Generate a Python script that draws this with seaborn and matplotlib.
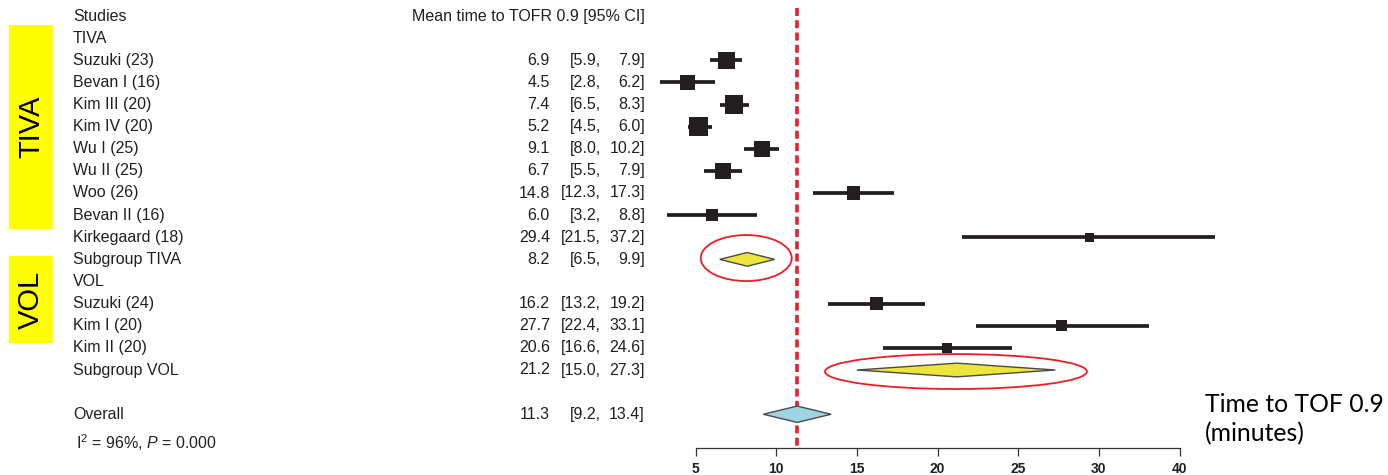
import matplotlib
matplotlib.use("Agg")
import matplotlib.pyplot as plt
from matplotlib.patches import Polygon, Ellipse, Rectangle
import pandas as pd
import seaborn as sns

# ---- study-level results (minutes to TOF ratio 0.9) ----
study_names = ["Suzuki (23)", "Bevan I (16)", "Kim III (20)", "Kim IV (20)",
               "Wu I (25)", "Wu II (25)", "Woo (26)", "Bevan II (16)",
               "Kirkegaard (18)", "Suzuki (24)", "Kim I (20)", "Kim II (20)"]
study_group = ["TIVA"] * 9 + ["VOL"] * 3
study_mean = [6.9, 4.5, 7.4, 5.2, 9.1, 6.7, 14.8, 6.0, 29.4, 16.2, 27.7, 20.6]
study_lo = [5.9, 2.8, 6.5, 4.5, 8.0, 5.5, 12.3, 3.2, 21.5, 13.2, 22.4, 16.6]
study_hi = [7.9, 6.2, 8.3, 6.0, 10.2, 7.9, 17.3, 8.8, 37.2, 19.2, 33.1, 24.6]
study_weight = [11.6, 9.0, 13.0, 14.5, 10.3, 10.3, 6.8, 5.8, 3.2, 6.8, 4.8, 4.0]

# ---- pooled estimates ----
group_names = ["TIVA", "VOL"]
subgroup_labels = ["Subgroup TIVA", "Subgroup VOL"]
subgroup_mean = [8.2, 21.2]
subgroup_lo = [6.5, 15.0]
subgroup_hi = [9.9, 27.3]
overall_label = "Overall"
overall_mean = 11.3
overall_lo = 9.2
overall_hi = 13.4
heterogeneity = r"I$^{2}$ = 96%, $P$ = 0.000"

header_left = "Studies"
header_right = "Mean time to TOFR 0.9 [95% CI]"
tick_values = [5, 10, 15, 20, 25, 30, 35]
tick_labels = ["5", "10", "15", "20", "25", "30", "40"]
x_title = ["Time to TOF 0.9", "(minutes)"]

# ---- styling ----
INK = "#231f20"
RED = "#e8202a"
YELLOW_FILL = "#ede53b"
BLUE_FILL = "#9fd4e6"
W, H = 1388, 475
X0_PX, PX_PER_MIN = 695.6, 16.13     # horizontal scale of the forest panel
ROW0_PX, ROW_PX = 16.0, 22.125       # vertical spacing of table rows

sns.set_style("white")
plt.rcParams["font.family"] = ["Liberation Sans", "DejaVu Sans"]
plt.rcParams["mathtext.fontset"] = "custom"
plt.rcParams["mathtext.rm"] = "Liberation Sans"
plt.rcParams["mathtext.it"] = "Liberation Sans:italic"


def xpx(px):
    return 5 + (px - X0_PX) / PX_PER_MIN


def ypx(py):
    return (py - ROW0_PX) / ROW_PX


# ---- row layout ----
rows_study, rows_header, rows_sub = [], [], []
r = 1
for g in group_names:
    rows_header.append(r)
    r += 1
    for grp in study_group:
        if grp == g:
            rows_study.append(r)
            r += 1
    rows_sub.append(r)
    r += 1
row_overall = r + 1
row_het = row_overall + 1.3
axis_row = ypx(447.7)

df = pd.DataFrame({"name": study_names, "group": study_group, "mean": study_mean,
                   "lo": study_lo, "hi": study_hi, "weight": study_weight,
                   "row": rows_study})

fig = plt.figure(figsize=(W / 100, H / 100), dpi=100)
ax = fig.add_axes([0, 0, 1, 1])

# confidence intervals and weighted squares
ax.hlines(df["row"], df["lo"], df["hi"], color=INK, lw=2.7, zorder=2)
k = 12.93
wmin, wmax = df["weight"].min(), df["weight"].max()
sns.scatterplot(data=df, x="mean", y="row", size="weight",
                sizes=(wmin * k, wmax * k), size_norm=(wmin, wmax),
                marker="s", color=INK, linewidth=0, legend=False, ax=ax, zorder=3)

# reference line at the overall estimate
ax.vlines(overall_mean, ypx(8), axis_row, color=RED, lw=2.6,
          linestyles=(0, (2.2, 1.2)), zorder=1)


def diamond(m, lo, hi, row, half, fc):
    ax.add_patch(Polygon([(lo, row), (m, row - half), (hi, row), (m, row + half)],
                         closed=True, fc=fc, ec="#4a4a4a", lw=1.0, zorder=4))


for m, lo, hi, row in zip(subgroup_mean, subgroup_lo, subgroup_hi, rows_sub):
    diamond(m, lo, hi, row, 0.31, YELLOW_FILL)
diamond(overall_mean, overall_lo, overall_hi, row_overall, 0.37, BLUE_FILL)

# highlight rings around subgroup estimates
ring_width = [5.64, 16.24]
ring_height = [2.08, 1.58]
ring_dy = [-0.06, 0.07]
for m, row, rw, rh, dy in zip(subgroup_mean, rows_sub, ring_width, ring_height, ring_dy):
    ax.add_patch(Ellipse((m - 0.06, row + dy), rw, rh, fill=False, ec="#ee1c25",
                         lw=1.3, zorder=5))

# ---- text columns ----
fs = 11.5
x_name = xpx(73)
x_mean = xpx(550)
x_cil = xpx(601)
x_cir = xpx(645)
ax.text(x_name, 0, header_left, ha="left", va="center", fontsize=fs, color=INK)
ax.text(x_cir, 0, header_right, ha="right", va="center", fontsize=fs, color=INK)
for g, row in zip(group_names, rows_header):
    ax.text(x_name, row, g, ha="left", va="center", fontsize=fs, color=INK)
for _, s in df.iterrows():
    ax.text(x_name, s["row"], s["name"], ha="left", va="center", fontsize=fs, color=INK)
    ax.text(x_mean, s["row"], f"{s['mean']:.1f}", ha="right", va="center", fontsize=fs, color=INK)
    ax.text(x_cil, s["row"], f"[{s['lo']:.1f},", ha="right", va="center", fontsize=fs, color=INK)
    ax.text(x_cir, s["row"], f"{s['hi']:.1f}]", ha="right", va="center", fontsize=fs, color=INK)
pooled = list(zip(subgroup_labels, subgroup_mean, subgroup_lo, subgroup_hi, rows_sub))
pooled.append((overall_label, overall_mean, overall_lo, overall_hi, row_overall))
for lab, m, lo, hi, row in pooled:
    ax.text(x_name, row, lab, ha="left", va="center", fontsize=fs, color=INK)
    ax.text(x_mean, row, f"{m:.1f}", ha="right", va="center", fontsize=fs, color=INK)
    ax.text(x_cil, row, f"[{lo:.1f},", ha="right", va="center", fontsize=fs, color=INK)
    ax.text(x_cir, row, f"{hi:.1f}]", ha="right", va="center", fontsize=fs, color=INK)
ax.text(xpx(76), row_het, heterogeneity, ha="left", va="center", fontsize=fs, color=INK)

# ---- yellow group tags on the left ----
tag_spans = [(25, 229), (256, 343)]
for g, (top, bot) in zip(group_names, tag_spans):
    ax.add_patch(Rectangle((xpx(9), ypx(top)), xpx(53) - xpx(9), ypx(bot) - ypx(top),
                           fc="#ffff00", ec="none", zorder=0))
    ax.text(xpx(31), ypx((top + bot) / 2), g, rotation=90, ha="center", va="center",
            fontsize=21, color="black")

# ---- x axis ----
for side in ["top", "left", "right"]:
    ax.spines[side].set_visible(False)
ax.spines["bottom"].set_position(("data", axis_row))
ax.spines["bottom"].set_bounds(tick_values[0], tick_values[-1])
ax.spines["bottom"].set_color("#333333")
ax.spines["bottom"].set_linewidth(0.9)
ax.set_xticks(tick_values, tick_labels)
ax.tick_params(axis="x", bottom=True, length=5.5, width=0.9, color="#333333",
               direction="out", pad=5, labelsize=10, labelcolor=INK)
for t in ax.get_xticklabels():
    t.set_fontweight("bold")
ax.set_yticks([])
ax.set_xlabel("")
ax.set_ylabel("")

ax.text(xpx(1205), ypx(412), x_title[0], ha="left", va="baseline",
        fontsize=17.8, family=["Lato", "DejaVu Sans"], color="black")
ax.text(xpx(1205), ypx(441), x_title[1], ha="left", va="baseline",
        fontsize=17.8, family=["Lato", "DejaVu Sans"], color="black")

ax.set_xlim(xpx(0), xpx(W))
ax.set_ylim(ypx(H), ypx(0))

fig.savefig("out.png", dpi=100)
